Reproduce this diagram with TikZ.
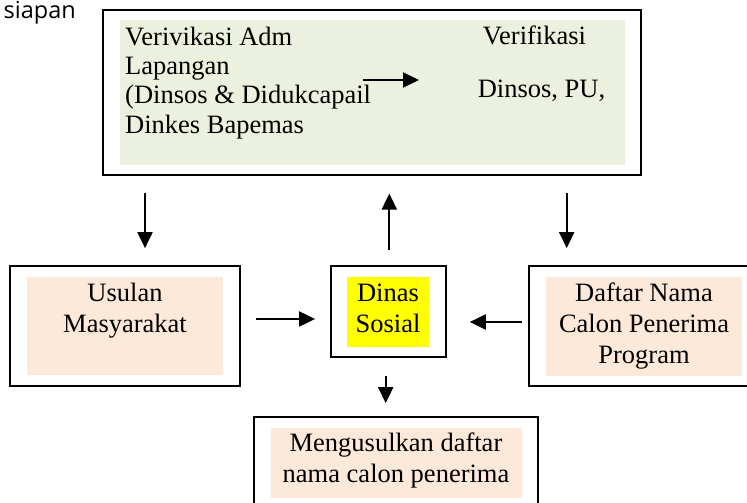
\documentclass[tikz,border=0pt]{standalone}
\usepackage{fontspec}
\setmainfont{Liberation Serif}
\newfontfamily\headfont{Open Sans}
\usetikzlibrary{arrows.meta}

\begin{document}
\begin{tikzpicture}[x=1pt, y=-1pt, every node/.style={font=\fontsize{26.5}{31}\selectfont, inner sep=0pt}]
		% Define colors
		\definecolor{verif_bg}{RGB}{235, 241, 222} % light green panel
		\definecolor{peach_bg}{RGB}{253, 233, 217}
		\definecolor{dinsos_bg}{RGB}{255, 255, 0}

		% Styles
		\tikzstyle{frame_box} = [draw=black, line width=1.7pt, fill=white]
		\tikzstyle{peach_box} = [fill=peach_bg]
		\tikzstyle{box_text} = [align=center, anchor=north]
		\tikzstyle{flow} = [-{Triangle[width=15pt,length=16pt]}, line width=2pt]

		\useasboundingbox (0,0) rectangle (747,503);
		\clip (0,0) rectangle (747,503);

		% Cut-off heading (top left)
		\node[anchor=base east, font=\headfont\fontsize{23.5}{27}\selectfont] (heading) at (76,18.5) {siapan};

		% Top verification box
		\node[frame_box, minimum width=538pt, minimum height=165pt] (verif) at (372,92.5) {};
		\node[fill=verif_bg, minimum width=505pt, minimum height=145pt] (veriffill) at (372.5,92.5) {};
		\node[align=left, anchor=north west, font=\fontsize{26.5}{29.4}\selectfont] (admtext) at (125,26.5) {Verivikasi Adm\\Lapangan\\(Dinsos \& Didukcapail\\Dinkes Bapemas};
		\node[anchor=base] (fieldtext) at (534.5,44.5) {Verifikasi};
		\node[anchor=base] (putext) at (541.5,97.5) {Dinsos, PU,};
		\coordinate (admout) at (363,80);
		\coordinate (fieldin) at (419,80);
		\draw[flow] (admout) -- (fieldin);

		% Middle row
		\node[frame_box, minimum width=230pt, minimum height=120pt] (usulan) at (125,325.7) {};
		\node[peach_box, minimum width=196pt, minimum height=98pt] (usulanfill) at (125,326) {};
		\node[box_text] (usulantext) at (125,283) {Usulan\\Masyarakat};

		\node[frame_box, minimum width=114.7pt, minimum height=91pt] (dinas) at (388.3,311.2) {};
		\node[fill=dinsos_bg, minimum width=82.3pt, minimum height=69.7pt] (dinasfill) at (388.2,311.8) {};
		\node[box_text] (dinastext) at (388,283.5) {Dinas\\Sosial};

		\node[frame_box, minimum width=236pt, minimum height=120pt] (daftar) at (647,325.7) {};
		\node[peach_box, minimum width=195.7pt, minimum height=98.7pt] (daftarfill) at (643.85,326.35) {};
		\node[box_text] (daftartext) at (644,283) {Daftar Nama\\Calon Penerima\\Program};

		% Bottom box
		\node[frame_box, minimum width=283.7pt, minimum height=103.3pt] (usul) at (395.85,468.35) {};
		\node[peach_box, minimum width=251pt, minimum height=69.7pt] (usulfill) at (396.5,462.85) {};
		\node[box_text] (usultext) at (396,433) {Mengusulkan daftar\\nama calon penerima};

		% Arrows between boxes
		\draw[flow, shorten <=16.7pt, shorten >=16.7pt] (verif.south -| 145,0) -- (usulan.north -| 145,0);
		\draw[flow, shorten <=14.7pt, shorten >=17.7pt] (dinas.north -| 389.3,0) -- (verif.south -| 389.3,0);
		\draw[flow, shorten <=16.7pt, shorten >=16.7pt] (verif.south -| 566.7,0) -- (daftar.north -| 566.7,0);
		\draw[flow, shorten <=15pt, shorten >=15pt] (usulan.east |- 0,319) -- (dinas.west |- 0,319);
		\draw[flow, shorten <=6pt, shorten >=23.3pt] (daftar.west |- 0,322) -- (dinas.east |- 0,322);
		\draw[flow, shorten <=18.3pt, shorten >=12.7pt] (dinas.south -| 385.7,0) -- (usul.north -| 385.7,0);

	\end{tikzpicture}
\end{document}
